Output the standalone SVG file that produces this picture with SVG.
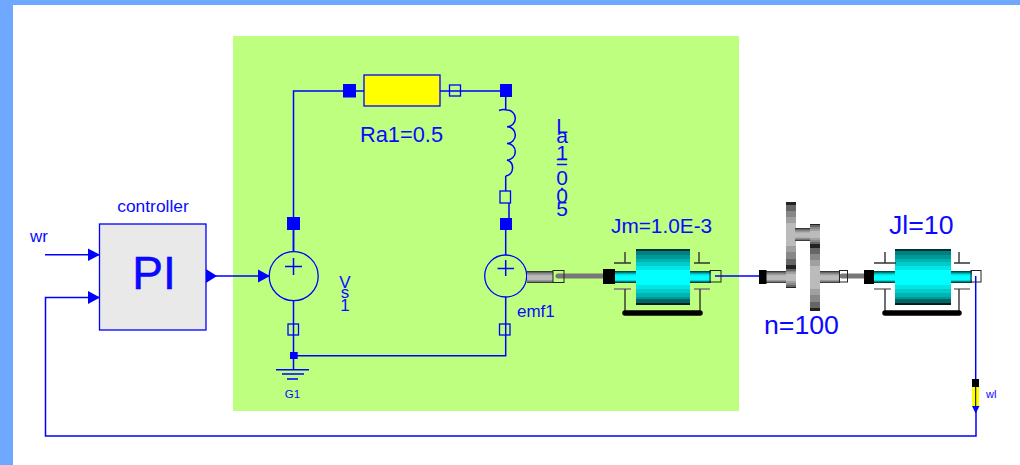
<svg xmlns="http://www.w3.org/2000/svg" width="1020" height="465" viewBox="0 0 1020 465">
<style>
text{font-family:"Liberation Sans",Arial,sans-serif;fill:#0a0aff}
.w{fill:none;stroke:#0000ff;stroke-width:1.5}
.f{fill:#0000ff;stroke:none}
.o{fill:none;stroke:#0000ff;stroke-width:1.3}
.t{fill:none;stroke:#333;stroke-width:1.4}
.g{fill:none;stroke:#777;stroke-width:5;stroke-linecap:round}
.b{fill:none;stroke:#000;stroke-width:5.5;stroke-linecap:round}
.p{fill:url(#cyanShaft)}
.d{fill:url(#drum)}
.s{fill:url(#greyShaft)}
.y{fill:url(#gear)}
.m{text-anchor:middle}
</style>
<defs>
<linearGradient id="drum" x1="0" y1="0" x2="0" y2="1">
<stop offset="0" stop-color="#003333"/><stop offset=".04" stop-color="#003333"/>
<stop offset=".04" stop-color="#008080"/><stop offset=".1" stop-color="#008080"/>
<stop offset=".1" stop-color="#009999"/><stop offset=".17" stop-color="#009999"/>
<stop offset=".17" stop-color="#00b3b3"/><stop offset=".24" stop-color="#00b3b3"/>
<stop offset=".24" stop-color="#00cccc"/><stop offset=".31" stop-color="#00cccc"/>
<stop offset=".31" stop-color="#00e6e6"/><stop offset=".38" stop-color="#00e6e6"/>
<stop offset=".38" stop-color="#00ffff"/><stop offset=".65" stop-color="#00ffff"/>
<stop offset=".65" stop-color="#00e6e6"/><stop offset=".71" stop-color="#00e6e6"/>
<stop offset=".71" stop-color="#00cccc"/><stop offset=".78" stop-color="#00cccc"/>
<stop offset=".78" stop-color="#00b3b3"/><stop offset=".85" stop-color="#00b3b3"/>
<stop offset=".85" stop-color="#009999"/><stop offset=".9" stop-color="#009999"/>
<stop offset=".9" stop-color="#006666"/><stop offset=".96" stop-color="#006666"/>
<stop offset=".96" stop-color="#002020"/><stop offset="1" stop-color="#002020"/>
</linearGradient>
<linearGradient id="cyanShaft" x1="0" y1="0" x2="0" y2="1">
<stop offset="0" stop-color="#003333"/><stop offset=".12" stop-color="#007a7a"/><stop offset=".3" stop-color="#00e6e6"/><stop offset=".45" stop-color="#00ffff"/><stop offset=".75" stop-color="#00ffff"/><stop offset=".88" stop-color="#008080"/><stop offset="1" stop-color="#002020"/>
</linearGradient>
<linearGradient id="greyShaft" x1="0" y1="0" x2="0" y2="1">
<stop offset="0" stop-color="#222"/><stop offset=".15" stop-color="#777"/><stop offset=".4" stop-color="#bbb"/><stop offset=".7" stop-color="#bbb"/><stop offset=".88" stop-color="#777"/><stop offset="1" stop-color="#222"/>
</linearGradient>
<linearGradient id="gear" x1="0" y1="0" x2="0" y2="1">
<stop offset="0" stop-color="#222"/><stop offset=".05" stop-color="#222"/>
<stop offset=".05" stop-color="#666"/><stop offset=".13" stop-color="#666"/>
<stop offset=".13" stop-color="#888"/><stop offset=".22" stop-color="#888"/>
<stop offset=".22" stop-color="#a0a0a0"/><stop offset=".32" stop-color="#a0a0a0"/>
<stop offset=".32" stop-color="#bbb"/><stop offset=".66" stop-color="#bbb"/>
<stop offset=".66" stop-color="#a0a0a0"/><stop offset=".76" stop-color="#a0a0a0"/>
<stop offset=".76" stop-color="#888"/><stop offset=".86" stop-color="#888"/>
<stop offset=".86" stop-color="#666"/><stop offset=".95" stop-color="#666"/>
<stop offset=".95" stop-color="#222"/><stop offset="1" stop-color="#222"/>
</linearGradient>
</defs>

<g id="frame">
<rect x="0" y="0" width="1020" height="465" fill="#fff"/>
<rect x="0" y="0" width="1020" height="5" fill="#70a8ff"/>
<rect x="0" y="0" width="13" height="465" fill="#70a8ff"/>
<rect x="233" y="36" width="506" height="375" fill="#bfff7f"/>
</g>

<g id="connectors">
<path class="w" d="M45 254.7H99"/>
<path class="w" d="M99 297.5H45.5V436H976V407"/>
<path class="w" d="M206 276H270"/>
<path class="w" d="M293.5 252V91H349"/>
<path class="w" d="M356 91H364M440 91H500"/>
<path class="w" d="M505.7 97V110M505.7 176V191M509 203V218M505.7 230V255"/>
<path class="w" d="M293.5 230V252M293.5 300.7V355M505.7 297V355.7H293.5M293.5 359V369.7"/>
<path class="w" d="M715 276H760"/>
<path class="w" d="M975.7 276V379"/>
<path class="g" d="M558 276H606"/>
<path class="g" d="M842 276H868"/>
</g>

<g id="controller">
<rect x="99.5" y="224" width="106.5" height="106" fill="#e9e9e9" stroke="#0000ff" stroke-width="1.3"/>
<text class="m" x="153" y="212" font-size="17.4">controller</text>
<text class="m" x="154" y="289" font-size="46" stroke="#0000ff" stroke-width=".5">PI</text>
<path class="f" d="M88 248.5L100 254.7L88 261Z"/>
<path class="f" d="M88 291L100 297.5L88 304Z"/>
<path class="f" d="M206 269L217 276L206 283Z"/>
</g>
<g id="wr"><text x="30" y="241.5" font-size="17">wr</text></g>

<g id="Vs">
<path class="f" d="M258 269.5L270 276L258 282.5Z"/>
<circle cx="293.7" cy="276.2" r="24.5" fill="none" stroke="#0000ff" stroke-width="1.3"/>
<path class="w" d="M285 266.5H302M293.5 258V275"/>
<rect class="f" x="287" y="217" width="13" height="13"/>
<rect class="o" x="288" y="324" width="10.5" height="11"/>
<text class="m" x="345" y="288" font-size="17">V</text>
<text class="m" x="345" y="297.5" font-size="17">s</text>
<text class="m" x="345" y="311" font-size="17">1</text>
</g>

<g id="G1">
<rect class="f" x="290" y="352" width="7.7" height="7"/>
<path class="w" d="M276 369.7H309M282 374H304M287 379H298"/>
<text class="m" x="292.5" y="397.5" font-size="11.5">G1</text>
</g>

<g id="Ra1">
<rect class="f" x="343" y="84" width="13" height="13.5"/>
<rect x="364" y="75" width="76" height="31" fill="#ffff00" stroke="#0000ff" stroke-width="1.3"/>
<rect class="o" x="449.5" y="85" width="11" height="11"/>
<rect class="f" x="500" y="84" width="12" height="13"/>
<text x="360" y="142" font-size="21.8">Ra1=0.5</text>
</g>

<g id="La1">
<path class="w" d="M499 110.5C503 109 507 110 507 110A8.3 8.3 0 0 1 507 126.7A8.3 8.3 0 0 1 507 143.4A8.3 8.3 0 0 1 507 160A8.3 8.3 0 0 1 505.7 176"/>
<rect class="o" x="500" y="191" width="10.5" height="12"/>
<rect class="f" x="500" y="218" width="12" height="12"/>
<text class="m" x="562" y="133" font-size="21">L</text>
<text class="m" x="562" y="143" font-size="21">a</text>
<text class="m" x="562" y="160" font-size="21">1</text>
<text class="m" x="562" y="169" font-size="21">=</text>
<text class="m" x="562" y="185" font-size="21">0</text>
<text class="m" x="562" y="190" font-size="21">.</text>
<text class="m" x="562" y="203" font-size="21">0</text>
<text class="m" x="562" y="216" font-size="21">5</text>
</g>

<g id="emf1">
<circle cx="505.7" cy="276" r="21" fill="none" stroke="#0000ff" stroke-width="1.3"/>
<path class="w" d="M497.5 268.5H514M505.7 260V276"/>
<rect class="o" x="499.5" y="324" width="10.5" height="11"/>
<rect class="s" x="527" y="271" width="26" height="12"/>
<rect x="553" y="270.5" width="11" height="12" fill="none" stroke="#222" stroke-width="1"/>
<text x="517" y="317" font-size="17">emf1</text>
</g>

<g id="Jm">
<rect x="603" y="269" width="12" height="15" fill="#000"/>
<rect class="p" x="615" y="271" width="23" height="12"/>
<rect class="p" x="688" y="271" width="23" height="12"/>
<rect class="d" x="636" y="249" width="54" height="56"/>
<path class="t" d="M614 263H631M625 252V263M694 263H710M699 252V263"/>
<path d="M614 289H631M694 289H710" fill="none" stroke="#777" stroke-width="1.4"/>
<path class="t" d="M625 289V313M700 289V313"/>
<path class="b" d="M625 313H700"/>
<rect x="710" y="270.5" width="11" height="11.5" fill="none" stroke="#222" stroke-width="1"/>
<text x="611" y="233" font-size="20.8">Jm=1.0E-3</text>
</g>

<g id="gearbox">
<rect class="s" x="766" y="271" width="22" height="12"/>
<rect class="s" x="818" y="271" width="22" height="12"/>
<rect x="759" y="270" width="7.5" height="14" fill="#000"/>
<rect class="y" x="786" y="202" width="10" height="66"/>
<rect class="y" x="786" y="268" width="10" height="20"/>
<rect class="s" x="795" y="228" width="16" height="13"/>
<rect class="y" x="810" y="224" width="10" height="21"/>
<rect class="y" x="810" y="245" width="10" height="66"/>
<rect x="839.5" y="270.5" width="8" height="11.5" fill="none" stroke="#222" stroke-width="1"/>
<text x="764" y="334" font-size="26.7">n=100</text>
</g>

<g id="Jl">
<rect x="864" y="270" width="10" height="14" fill="#000"/>
<rect class="p" x="874" y="271" width="23" height="12"/>
<rect class="p" x="949" y="271" width="23" height="12"/>
<rect class="d" x="895" y="249" width="56" height="56"/>
<path class="t" d="M874 263H896M885 252V263M954 263H970M959 252V263"/>
<path d="M874 289H891M954 289H970" fill="none" stroke="#777" stroke-width="1.4"/>
<path class="t" d="M885 289V313M959 289V313"/>
<path class="b" d="M885 313H959"/>
<rect x="971" y="270.5" width="10" height="11.5" fill="none" stroke="#222" stroke-width="1"/>
<text x="889" y="234" font-size="26.7">Jl=10</text>
</g>

<g id="wl">
<rect x="972" y="379" width="7" height="28" fill="#ffff00"/>
<rect x="972" y="379" width="7" height="8" fill="#000"/>
<path d="M975.7 379V407" stroke="#000" stroke-width="1" fill="none"/>
<path class="f" d="M972 406H979.5L975.7 413.5Z"/>
<text x="986" y="398" font-size="11">wl</text>
</g>
</svg>
